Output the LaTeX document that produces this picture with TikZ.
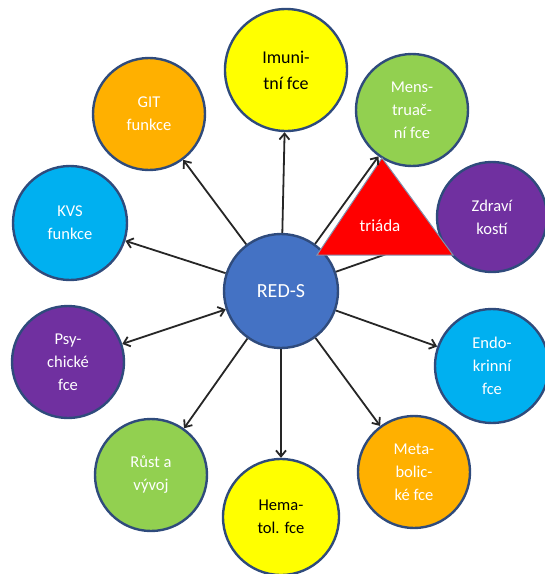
\documentclass[tikz,border=0pt]{standalone}
\usepackage{fontspec}
\setmainfont{Carlito}
\usepackage{tikz}
\usetikzlibrary{arrows.meta}

\definecolor{rimblue}{HTML}{2F4B7C}
\definecolor{redsblue}{HTML}{4472C4}
\definecolor{yel}{HTML}{FFFF00}
\definecolor{leaf}{HTML}{92D050}
\definecolor{plum}{HTML}{7030A0}
\definecolor{sky}{HTML}{00B0F0}
\definecolor{amber}{HTML}{FFB000}
\definecolor{tri}{HTML}{FF0000}

\tikzset{
  bubble/.style={circle, draw=rimblue, line width=2.4pt, minimum size=#1, inner sep=0pt,
    align=center, text=white, font=\fontsize{16.5}{23}\selectfont},
  link/.style={draw=black!85, line width=1.8pt, -{Straight Barb[length=6pt,width=10pt]}},
}

\begin{document}
\begin{tikzpicture}[x=1pt, y=-1pt]
\useasboundingbox (0,0) rectangle (545,574);
% centre
\node[bubble=114, fill=redsblue, font=\fontsize{20}{24}\selectfont] (reds) at (281,291) {RED-S};
% ring of functions
\node[bubble=122, fill=yel, text=black, font=\fontsize{18}{26}\selectfont] (imun) at (286,70) {Imuni-\\tní fce};
\node[bubble=112, fill=leaf] (mens) at (412,110) {Mens-\\truač-\\ní fce};
\node[bubble=110, fill=plum] (kost) at (492,217) {Zdraví\\kostí};
\node[bubble=114, fill=sky] (endo) at (492,366) {Endo-\\krinní\\fce};
\node[bubble=112, fill=amber] (meta) at (414,472) {Meta-\\bolic-\\ké fce};
\node[bubble=116, fill=yel, text=black] (hema) at (281,517) {Hema-\\tol. fce};
\node[bubble=112, fill=leaf] (rust) at (151,475) {Růst a\\vývoj};
\node[bubble=112, fill=plum] (psy) at (68,362) {Psy-\\chické\\fce};
\node[bubble=114, fill=sky] (kvs) at (70,223) {KVS\\funkce};
\node[bubble=112, fill=amber] (git) at (149,114) {GIT\\funkce};

\foreach \f in {imun,kost,endo,meta,hema,rust,kvs,git}
  \draw[link] (reds) -- (\f);
\draw[link, {Straight Barb[length=6pt,width=10pt]}-{Straight Barb[length=6pt,width=10pt]}] (reds) -- (psy);

% triad
\filldraw[fill=tri, draw=rimblue!60, line width=1pt] (317,255) -- (453,255) -- (382,158) -- cycle;
\node[font=\fontsize{17}{23}\selectfont, text=white] (triada) at (380,226) {triáda};
\draw[link] (reds) -- (mens);
\end{tikzpicture}
\end{document}
